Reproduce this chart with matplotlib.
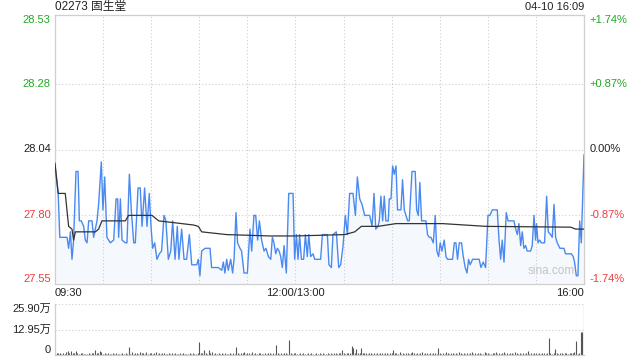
import matplotlib
matplotlib.use("Agg")
import matplotlib.pyplot as plt
import matplotlib.transforms as mtransforms

# ---------------- data ----------------
title = "02273 固生堂"
stamp = "04-10 16:09"

price_min = [0, 2, 3, 7.5, 8.5, 9.6, 10.6, 11.6, 13.1, 14.4, 15.2, 16.4, 17.9, 18.9, 20.0, 21.0, 23.1, 24.1,
             26.2, 27.2, 28.9, 29.9, 31.0, 32.4, 34.5, 36.6, 38.1, 39.1, 39.7, 40.8, 41.8, 43.9, 44.9, 46.4,
             47.6, 49.1, 50.1, 51.8, 53.2, 54.3, 55.9, 57.4, 58.8, 59.9, 60.9, 62.2, 63.6, 65.1, 66.5, 68.0,
             69.2, 70.7, 72.2, 73.4, 74.9, 76.3, 77.3, 79.0, 80.5, 82.1, 83.8, 85.3, 88.4, 89.4, 90.4, 91.5,
             93.6, 96.7, 97.7, 101.9, 104.0, 105.0, 106.0, 107.1, 108.1, 109.6, 110.8, 111.7, 112.9, 113.9,
             115.4, 116.4, 117.9, 120.0, 121.6, 122.7, 124.1, 125.2, 126.4, 127.5, 128.9, 130.4, 131.6, 133.1,
             134.6, 135.6, 136.6, 137.7, 138.7, 139.8, 140.8, 141.8, 142.9, 144.3, 145.8, 148.5, 149.5, 150.6,
             151.6, 152.6, 153.7, 155.1, 156.2, 157.4, 158.3, 159.5, 161.0, 162.0, 165.7, 166.8, 169.9, 170.9,
             172.4, 173.4, 175.5, 177.0, 178.2, 179.7, 181.1, 182.4, 183.8, 185.9, 187.4, 188.6, 190.1, 191.5,
             193.2, 196.3, 197.8, 199.0, 200.1, 201.5, 202.3, 203.3, 204.4, 205.4, 206.4, 207.9, 208.5, 209.6,
             210.6, 211.6, 212.7, 213.7, 215.8, 216.8, 217.9, 220.0, 221.0, 222.7, 224.7, 225.6, 226.6, 227.6,
             228.7, 231.4, 232.4, 233.5, 234.5, 236.0, 237.2, 238.2, 239.3, 240.3, 241.4, 242.8, 243.9, 244.9,
             248.0, 249.1, 250.1, 251.1, 252.2, 253.6, 254.7, 255.9, 257.0, 258.0, 259.0, 260.5, 264.6, 265.7,
             267.1, 268.6, 270.1, 271.3, 272.8, 275.9, 277.0, 278.0, 279.0, 280.1, 281.5, 282.6, 286.3, 287.4,
             288.4, 289.4, 290.5, 291.5, 292.5, 293.6, 294.6, 296.7, 297.7, 298.8, 299.8, 300.4, 301.3, 302.3,
             303.4, 305.4, 306.7, 307.7, 309.2, 310.2, 311.3, 312.3, 313.3, 315.0, 317.5, 318.5, 322.1, 323.3,
             324.1, 325.2, 326.2, 327.3, 328.3, 330]
price = [27.98, 27.88, 27.72, 27.72, 27.68, 27.74, 27.64, 27.71, 27.96, 27.96, 27.78, 27.78, 27.76, 27.71, 27.70,
         27.78, 27.78, 27.72, 27.78, 27.84, 27.995, 27.82, 27.94, 27.72, 27.70, 27.71, 27.86, 27.86, 27.72, 27.86,
         27.71, 27.70, 27.70, 27.95, 27.82, 27.70, 27.70, 27.90, 27.90, 27.76, 27.90, 27.76, 27.88, 27.76, 27.68,
         27.70, 27.64, 27.66, 27.67, 27.80, 27.78, 27.64, 27.67, 27.78, 27.64, 27.76, 27.64, 27.75, 27.64, 27.64,
         27.73, 27.62, 27.62, 27.64, 27.58, 27.67, 27.68, 27.68, 27.61, 27.61, 27.60, 27.63, 27.59, 27.64, 27.60,
         27.64, 27.59, 27.64, 27.81, 27.70, 27.68, 27.67, 27.59, 27.59, 27.75, 27.67, 27.80, 27.80, 27.71, 27.78,
         27.71, 27.67, 27.68, 27.65, 27.64, 27.72, 27.70, 27.66, 27.68, 27.67, 27.65, 27.61, 27.69, 27.59, 27.88,
         27.88, 27.64, 27.73, 27.64, 27.73, 27.64, 27.64, 27.73, 27.65, 27.73, 27.65, 27.66, 27.64, 27.64, 27.73,
         27.73, 27.62, 27.61, 27.73, 27.74, 27.61, 27.62, 27.69, 27.80, 27.73, 27.88, 27.88, 27.80, 27.94, 27.86,
         27.84, 27.80, 27.80, 27.76, 27.88, 27.75, 27.76, 27.78, 27.87, 27.78, 27.87, 27.78, 27.78, 27.86, 27.86,
         27.98, 27.95, 27.98, 27.82, 27.82, 27.93, 27.82, 27.78, 27.78, 27.96, 27.96, 27.82, 27.80, 27.92, 27.78,
         27.78, 27.73, 27.72, 27.72, 27.70, 27.80, 27.67, 27.65, 27.70, 27.67, 27.71, 27.65, 27.64, 27.64, 27.70,
         27.70, 27.64, 27.70, 27.70, 27.65, 27.61, 27.59, 27.64, 27.62, 27.64, 27.64, 27.61, 27.63, 27.61, 27.80,
         27.80, 27.82, 27.82, 27.71, 27.64, 27.71, 27.63, 27.81, 27.78, 27.78, 27.75, 27.73, 27.77, 27.69, 27.74,
         27.68, 27.69, 27.67, 27.67, 27.69, 27.80, 27.71, 27.77, 27.70, 27.71, 27.70, 27.70, 27.87, 27.74, 27.73,
         27.72, 27.84, 27.72, 27.70, 27.68, 27.68, 27.66, 27.66, 27.65, 27.63, 27.58, 27.58, 27.78, 27.70, 28.02]

avg_min = [0, 2, 6.4, 8.5, 10.6, 11.6, 12.7, 25.2, 27.2, 29.3, 43.9, 45.9, 54.3, 60.5, 64.7, 86.3, 89.4, 91.5,
           107.1, 134.1, 150, 180.7, 187.0, 191.1, 201.5, 212.7, 241.8, 268.8, 321.7, 324.8, 330]
avg_price = [27.99, 27.88, 27.88, 27.76, 27.75, 27.71, 27.74, 27.74, 27.75, 27.78, 27.78, 27.80, 27.80, 27.80,
             27.78, 27.765, 27.76, 27.74, 27.73, 27.725, 27.725, 27.73, 27.74, 27.76, 27.76, 27.77, 27.77, 27.76,
             27.757, 27.75, 27.75]

# volume per minute, unit 万 (10k shares)
volume = [
    1.2, 0.8, 0.9, 1.0, 0.6, 1.1, 0.7, 1.3, 1.8, 0.9, 2.2, 1.0, 0.8, 2.0, 0.9, 0.6, 1.0, 0.8, 0.5, 0.7,
    0.6, 0.9, 0.5, 0.8, 1.0, 2.4, 0.9, 1.2, 2.0, 1.6, 0.7, 0.8, 0.6, 1.0, 0.5, 0.7, 0.9, 0.6, 0.8, 0.5,
    0.7, 0.6, 0.9, 0.5, 0.8, 0.6, 4.2, 0.7, 1.5, 0.6, 0.9, 1.2, 0.7, 1.4, 0.8, 1.0, 0.6, 1.3, 0.7, 0.9,
    1.1, 0.6, 0.8, 1.4, 0.7, 0.9, 0.5, 0.8, 1.2, 0.6, 0.7, 0.9, 0.5, 0.8, 0.6, 1.0, 0.7, 0.5, 0.9, 0.6,
    0.8, 0.5, 0.7, 0.6, 0.9, 0.5, 0.8, 0.6, 0.7, 1.0, 6.6, 1.1, 0.8, 2.6, 0.9, 0.7, 2.4, 0.8, 1.5, 0.6,
    0.9, 0.7, 1.1, 0.6, 0.8, 0.5, 0.9, 0.7, 0.6, 0.8, 0.5, 1.0, 0.7, 4.1, 0.8, 0.6, 1.2, 0.9, 1.5, 0.7,
    0.8, 1.0, 0.6, 1.4, 0.7, 0.9, 0.5, 0.8, 1.1, 0.6, 0.7, 0.9, 0.6, 0.8, 1.0, 0.7, 0.9, 0.6, 5.0, 0.8,
    0.7, 0.9, 0.6, 1.1, 0.8, 0.7, 7.6, 0.9, 0.6, 0.8, 1.0, 0.7, 0.6, 0.9, 0.5, 0.8, 0.6, 0.7, 0.9, 0.5,
    0.8, 0.6, 0.7, 0.9, 0.5, 0.8, 0.6, 1.0, 0.7, 0.5, 0.8, 0.6, 0.9, 0.7, 1.2, 0.8, 0.6, 1.0, 0.9, 2.5,
    0.9, 0.7, 1.2, 0.8, 1.0, 4.5, 3.8, 1.1, 3.2, 0.9, 1.0, 3.8, 1.2, 0.8, 0.9, 0.7, 1.0, 0.8, 0.6, 0.9,
    0.7, 0.8, 0.6, 1.0, 0.9, 0.7, 1.1, 0.8, 0.6, 1.2, 0.9, 2.6, 1.0, 0.8, 0.7, 1.3, 0.6, 0.9, 0.7, 0.8,
    1.2, 0.7, 0.9, 1.4, 0.8, 0.6, 1.1, 0.7, 0.9, 1.3, 0.6, 0.8, 1.0, 0.7, 0.9, 0.6, 0.8, 1.2, 0.7, 3.8,
    0.8, 0.6, 1.0, 0.7, 1.6, 0.9, 0.7, 1.2, 0.8, 0.6, 0.9, 0.7, 1.5, 0.8, 0.6, 1.0, 0.7, 0.9, 0.6, 0.8,
    1.6, 0.7, 0.9, 0.6, 0.8, 1.0, 0.7, 0.6, 1.4, 0.8, 0.9, 0.7, 0.6, 1.0, 0.8, 1.5, 0.7, 0.9, 0.6, 0.8,
    1.3, 0.7, 0.9, 0.6, 0.8, 1.0, 0.7, 1.6, 0.9, 0.6, 0.8, 0.7, 1.1, 0.6, 0.9, 1.8, 0.7, 0.8, 0.6, 1.0,
    0.8, 0.7, 0.9, 0.6, 1.2, 0.8, 0.7, 0.9, 8.6, 0.8, 0.6, 1.0, 3.0, 0.9, 0.7, 1.1, 0.8, 0.6, 0.9, 1.0,
    0.7, 0.9, 0.8, 1.2, 1.5, 7.0, 0.6, 1.0, 11.5, 11.7, 25.9,
]
vol_minutes = list(range(len(volume)))

price_ticks = [27.55, 27.80, 28.04, 28.28, 28.53]
price_tick_labels = ["27.55", "27.80", "28.04", "28.28", "28.53"]
pct_tick_labels = ["-1.74%", "-0.87%", "0.00%", "+0.87%", "+1.74%"]
tick_colors = ["#f03c3c", "#f03c3c", "#222222", "#22a822", "#22a822"]

time_ticks = [0, 150, 330]
time_labels = ["09:30", "12:00/13:00", "16:00"]
grid_minutes = [30, 60, 90, 120, 150, 180, 210, 240, 270, 300]

vol_ticks = [0, 12.95, 25.90]
vol_tick_labels = ["0", "12.95万", "25.90万"]

# ---------------- style ----------------
FONT = ["Liberation Sans", "Noto Sans CJK SC", "DejaVu Sans"]
plt.rcParams["font.family"] = FONT
FS = 8
GRID = "#cdcdcd"
SPINE = "#cfcfcf"
BLUE = "#4a8af0"

fig = plt.figure(figsize=(6.4, 3.6), dpi=100)
W, H = 640, 360

def box(l, t, r, b):
    return [l / W, 1 - b / H, (r - l) / W, (b - t) / H]

ax = fig.add_axes(box(55, 15, 584, 284))
axv = fig.add_axes(box(55, 304, 584, 355))

# main chart
ax.set_xlim(0, 330)
ax.set_ylim(price_ticks[0], price_ticks[-1])
ax.fill_between(price_min, price, price_ticks[0], color=BLUE, alpha=0.05, lw=0)
ax.plot(price_min, price, color=BLUE, lw=1.0, zorder=3)
ax.plot(avg_min, avg_price, color="#333333", lw=0.9, zorder=4)
for yv in price_ticks[1:-1]:
    ax.axhline(yv, color=GRID, lw=0.8, ls=(0, (1, 2)), zorder=1)
for xv in grid_minutes:
    ax.axvline(xv, color=GRID, lw=0.8, ls=(0, (1, 2)), zorder=1)
ax.set_xticks([]); ax.set_yticks([])
for s in ax.spines.values():
    s.set_color(SPINE); s.set_linewidth(0.9)

trL = mtransforms.blended_transform_factory(ax.transAxes, ax.transData)
n = len(price_ticks)
for i, (v, lab, pl, c) in enumerate(zip(price_ticks, price_tick_labels, pct_tick_labels, tick_colors)):
    va = "bottom" if i == 0 else ("top" if i == n - 1 else "center")
    ax.text(-0.008, v, lab, transform=trL, ha="right", va=va, color=c, fontsize=FS)
    ax.text(1.011, v, pl, transform=trL, ha="left", va=va, color=c, fontsize=FS)

trX = mtransforms.blended_transform_factory(ax.transData, ax.transAxes)
has = ["left", "center", "right"]
for t, lab, ha in zip(time_ticks, time_labels, has):
    ax.text(t, -0.034, lab, transform=trX, ha=ha, va="center", color="#222222", fontsize=FS)

ax.text(0, 1.028, title, transform=trX, ha="left", va="center", color="#222222", fontsize=FS + 0.5)
ax.text(330, 1.028, stamp, transform=trX, ha="right", va="center", color="#222222", fontsize=FS)
ax.text(0.982, 0.025, "sina.com", transform=ax.transAxes, ha="right", va="bottom",
        color="#c4c4c4", fontsize=FS + 0.5)

# volume chart
axv.set_xlim(0, 330)
axv.set_ylim(vol_ticks[0], vol_ticks[-1])
axv.vlines(vol_minutes, 0, volume, color="#555555", lw=0.8)
for yv in vol_ticks[1:]:
    axv.axhline(yv, color=GRID, lw=0.8, ls=(0, (1, 2)), zorder=0)
axv.set_xticks([]); axv.set_yticks([])
for k in ["top", "right"]:
    axv.spines[k].set_visible(False)
for k in ["left", "bottom"]:
    axv.spines[k].set_color(SPINE); axv.spines[k].set_linewidth(0.9)
trV = mtransforms.blended_transform_factory(axv.transAxes, axv.transData)
m = len(vol_ticks)
for i, (v, lab) in enumerate(zip(vol_ticks, vol_tick_labels)):
    va = "bottom" if i == 0 else ("top" if i == m - 1 else "center")
    axv.text(-0.008, v, lab, transform=trV, ha="right", va=va, color="#222222", fontsize=FS)

fig.savefig("out.png", dpi=100)
